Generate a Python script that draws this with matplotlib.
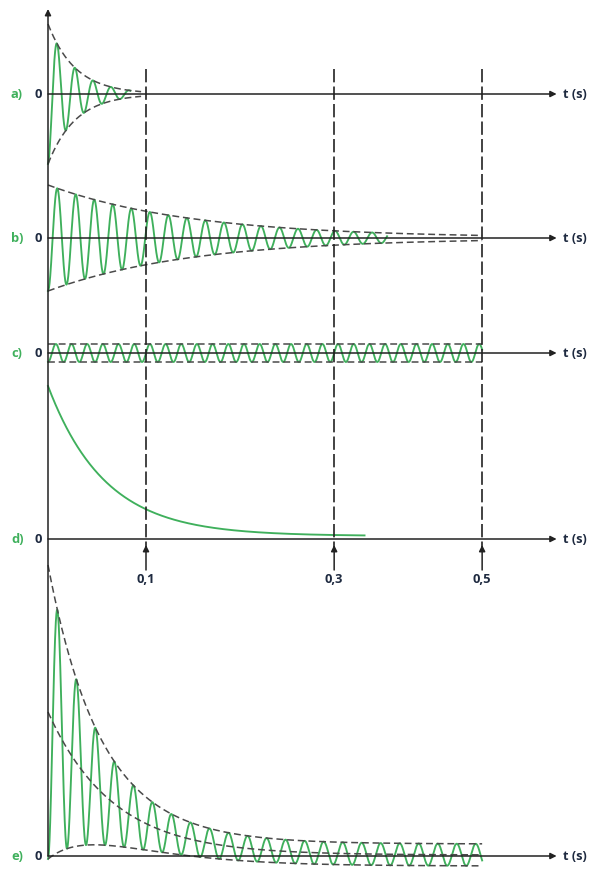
import numpy as np
import matplotlib.pyplot as plt

# labels
panel_labels = ['a)', 'b)', 'c)', 'd)', 'e)']
tick_labels = ['0,1', '0,3', '0,5']

# curve parameters (amplitudes in px, times in axis units)
amp_a, tau_a, per_a, end_a, env_end_a = 70, 0.28, 0.184, 0.84, 0.95
amp_b, tau_b, per_b, end_b, env_end_b = 53, 1.46, 0.189, 3.46, 4.43
amp_c, per_c, end_c = 9, 0.16, 4.43
amp_d, tau_d, tail_d, end_d = 150, 0.58, 3, 3.23
mid_e, tau_mid_e, tail_mid_e = 143, 0.66, 1
amp_e, tau_amp_e, tail_amp_e, per_e, end_e = 136, 0.46, 11, 0.194, 4.43

# layout (pixel rows of each baseline, tick spots on the schematic time axis)
base = [95, 239, 354, 540, 857]
tick_u = [1.0, 2.92, 4.43]
axis_end = 5.19

green = '#3fb05c'
ink = '#222222'
navy = '#1e2a40'
env_col = '#4a4a4a'
fnt = dict(family=['Open Sans', 'DejaVu Sans'], fontweight='bold', fontsize=9.3)

fig = plt.figure(figsize=(5.92, 8.7), dpi=100)
ax = fig.add_axes([0, 0, 1, 1])
ax.set_xlim(-48 / 98, (592 - 48) / 98)
ax.set_ylim(870, 0)
ax.axis('off')


def env(y0, u, A, **kw):
    ax.plot(u, y0 - A, color=env_col, lw=1.1, dashes=(4.5, 2.5), **kw)
    ax.plot(u, y0 + A, color=env_col, lw=1.1, dashes=(4.5, 2.5), **kw)


# a) strongly damped oscillation
u = np.linspace(0, end_a, 800)
ax.plot(u, base[0] + amp_a * np.exp(-u / tau_a) * np.cos(2 * np.pi * u / per_a), color=green, lw=1.35)
ue = np.linspace(0, env_end_a, 200)
env(base[0], ue, amp_a * np.exp(-ue / tau_a))

# b) weakly damped oscillation
u = np.linspace(0, end_b, 3000)
ax.plot(u, base[1] + amp_b * np.exp(-u / tau_b) * np.cos(2 * np.pi * u / per_b), color=green, lw=1.35)
ue = np.linspace(0, env_end_b, 400)
env(base[1], ue, amp_b * np.exp(-ue / tau_b))

# c) undamped oscillation
u = np.linspace(0, end_c, 3000)
ax.plot(u, base[2] + amp_c * np.cos(2 * np.pi * u / per_c), color=green, lw=1.35)
env(base[2], np.array([0, end_c]), np.array([amp_c, amp_c]))

# d) aperiodic decay
u = np.linspace(0, end_d, 600)
ax.plot(u, base[3] - (amp_d * np.exp(-u / tau_d) + tail_d), color=green, lw=1.35)

# e) transient around a decaying mean
u = np.linspace(0, end_e, 4000)
mid = mid_e * np.exp(-u / tau_mid_e) + tail_mid_e
amp = amp_e * np.exp(-u / tau_amp_e) + tail_amp_e
ax.plot(u, base[4] - (mid - amp * np.cos(2 * np.pi * u / per_e)), color=green, lw=1.35)
ax.plot(u, base[4] - mid, color=env_col, lw=1.1, dashes=(4.5, 2.5))
ax.plot(u, base[4] - (mid + amp), color=env_col, lw=1.1, dashes=(4.5, 2.5))
ax.plot(u, base[4] - (mid - amp), color=env_col, lw=1.1, dashes=(4.5, 2.5))

# axes with arrows
arr = dict(arrowstyle='-|>', color=ink, lw=1.1, mutation_scale=9, shrinkA=0, shrinkB=0)
ax.annotate('', xy=(0, 10), xytext=(0, base[4]), arrowprops=arr)
for lab, y0 in zip(panel_labels, base):
    ax.annotate('', xy=(axis_end, y0), xytext=(0, y0), arrowprops=arr)
    ax.text(-0.378, y0, lab, color=green, ha='left', va='center', **fnt)
    ax.text(-0.097, y0, '0', color=navy, ha='center', va='center', **fnt)
    ax.text(5.255, y0, 't (s)', color=navy, ha='left', va='center', **fnt)

# vertical time markers
for tu, tl in zip(tick_u, tick_labels):
    ax.plot([tu, tu], [70, 548], color=ink, lw=1.2, dashes=(8, 2.5))
    ax.annotate('', xy=(tu, 546), xytext=(tu, 571), arrowprops=arr)
    ax.text(tu, 580, tl, color=navy, ha='center', va='center', **fnt)

fig.savefig('out.png', dpi=100)
